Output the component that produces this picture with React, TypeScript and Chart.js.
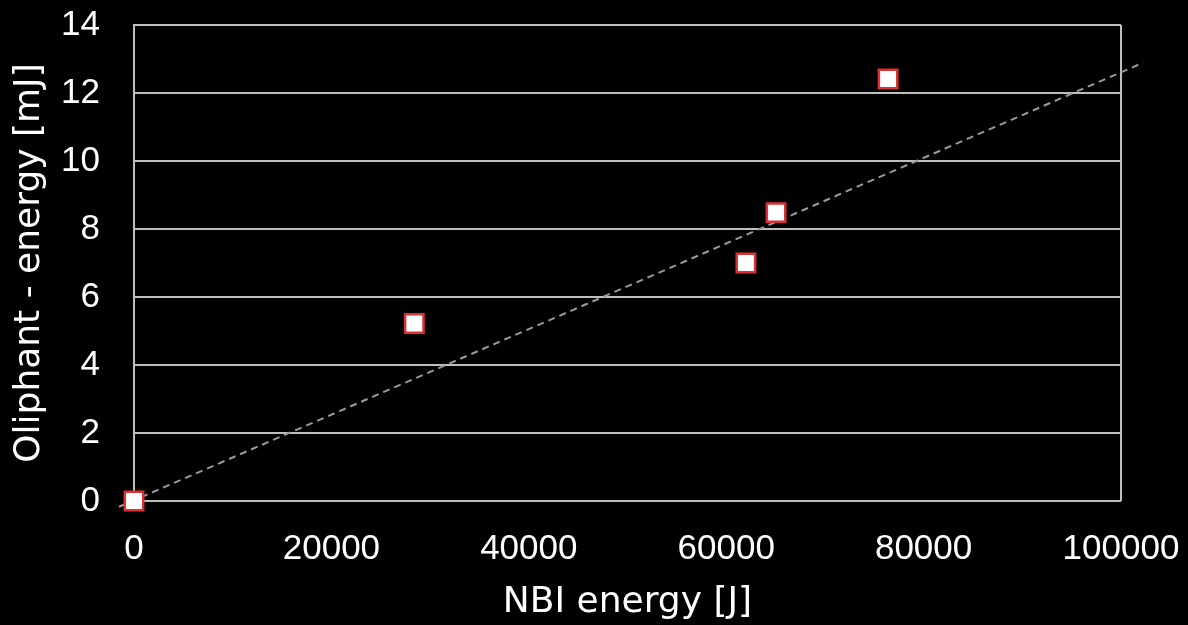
import React, { useEffect, useRef } from "react";
import { Chart, registerables } from "chart.js";

Chart.register(...registerables);

// Measured data (NBI energy in J, Oliphant energy in mJ)
const nbiEnergy = [0, 28400, 62000, 65050, 76400];
const oliphantEnergy = [0, 5.22, 7.0, 8.48, 12.41];

// Linear trendline endpoints (extends slightly beyond the axes)
const trendX = [-1520, 102230];
const trendY = [-0.17, 12.89];

const xTicks = [0, 20000, 40000, 60000, 80000, 100000];
const yTicks = [0, 2, 4, 6, 8, 10, 12, 14];

const xTitle = "NBI energy [J]";
const yTitle = "Oliphant - energy [mJ]";

const GRID = "#bfbfbf";
const TICK_FONT = { family: "'Liberation Sans', Arial, sans-serif", size: 35 };
const TITLE_FONT = { family: "'DejaVu Sans', sans-serif", size: 36 };

export default function App() {
  const ref = useRef<HTMLCanvasElement | null>(null);

  useEffect(() => {
    if (!ref.current) return;
    const chart = new Chart(ref.current, {
      type: "scatter",
      data: {
        datasets: [
          {
            label: "Oliphant",
            data: nbiEnergy.map((x, i) => ({ x, y: oliphantEnergy[i] })),
            pointStyle: "rect",
            pointRadius: 13,
            pointHoverRadius: 13,
            pointBackgroundColor: "#ffffff",
            pointBorderColor: "#d93333",
            pointBorderWidth: 2.5,
            showLine: false,
            clip: false,
          },
          {
            label: "Trend",
            data: trendX.map((x, i) => ({ x, y: trendY[i] })),
            showLine: true,
            pointRadius: 0,
            borderColor: "#9a9a9a",
            borderWidth: 2,
            borderDash: [7, 5],
            fill: false,
            clip: false,
          },
        ],
      },
      options: {
        animation: false,
        responsive: true,
        maintainAspectRatio: false,
        color: "#ffffff",
        layout: { padding: { left: 0, top: 25, right: 67, bottom: 0 } },
        plugins: {
          legend: { display: false },
          tooltip: { enabled: false },
        },
        scales: {
          x: {
            type: "linear",
            min: 0,
            max: 100000,
            afterBuildTicks: (s: any) => {
              s.ticks = xTicks.map((v) => ({ value: v }));
            },
            afterFit: (s: any) => {
              s.height = 124;
              s.paddingLeft = 0;
              s.paddingRight = 0;
            },
            grid: {
              drawTicks: false,
              lineWidth: 2,
              color: (ctx: any) =>
                ctx.tick && ctx.tick.value === 100000 ? GRID : "rgba(0,0,0,0)",
            },
            border: { display: false },
            ticks: {
              color: "#ffffff",
              font: TICK_FONT,
              padding: 27,
              maxRotation: 0,
              callback: (v: any) => String(v),
            },
            title: {
              display: true,
              text: xTitle,
              color: "#ffffff",
              font: TITLE_FONT,
              padding: { top: 0, bottom: 1 },
            },
          },
          y: {
            type: "linear",
            min: 0,
            max: 14,
            afterBuildTicks: (s: any) => {
              s.ticks = yTicks.map((v) => ({ value: v }));
            },
            afterFit: (s: any) => {
              s.width = 134;
              s.paddingTop = 0;
              s.paddingBottom = 0;
            },
            grid: { drawTicks: false, lineWidth: 2, color: GRID },
            border: { display: true, color: GRID, width: 2 },
            ticks: {
              color: "#ffffff",
              font: TICK_FONT,
              padding: 34,
              callback: (v: any) => String(v),
            },
            title: {
              display: true,
              text: yTitle,
              color: "#ffffff",
              font: TITLE_FONT,
              padding: { top: 8, bottom: 0 },
            },
          },
        },
      },
    });
    return () => chart.destroy();
  }, []);

  return (
    <div
      style={{
        position: "fixed",
        left: 0,
        top: 0,
        width: 1188,
        height: 625,
        background: "#000000",
      }}
    >
      <canvas ref={ref} />
    </div>
  );
}
